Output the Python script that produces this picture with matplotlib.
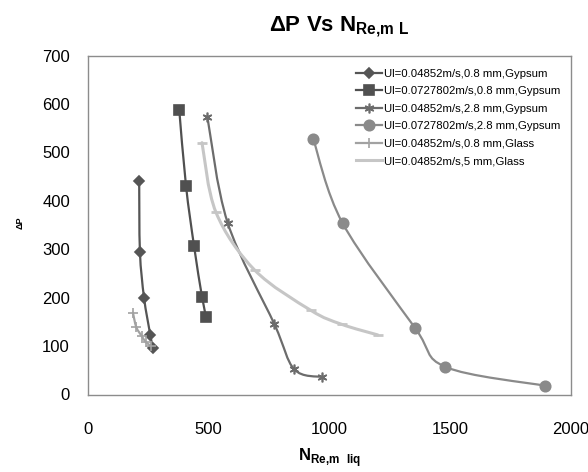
import numpy as np
import matplotlib
matplotlib.use('Agg')
import matplotlib.pyplot as plt
from matplotlib.path import Path
from matplotlib.patches import PathPatch
from matplotlib.lines import Line2D

plt.rcParams['font.family'] = 'Liberation Sans'
plt.rcParams['mathtext.fontset'] = 'custom'
plt.rcParams['mathtext.rm'] = 'Liberation Sans'
plt.rcParams['mathtext.bf'] = 'Liberation Sans:bold'

# ------- data -------
labels = ['Ul=0.04852m/s,0.8 mm,Gypsum',
          'Ul=0.0727802m/s,0.8 mm,Gypsum',
          'Ul=0.04852m/s,2.8 mm,Gypsum',
          'Ul=0.0727802m/s,2.8 mm,Gypsum',
          'Ul=0.04852m/s,0.8 mm,Glass',
          'Ul=0.04852m/s,5 mm,Glass']

nre_1 = [212, 215, 232, 258, 268]
dp_1 = [440, 295, 200, 123, 97]
nre_2 = [378, 406, 439, 472, 490]
dp_2 = [587, 430, 307, 202, 159]
nre_3 = [494, 578, 772, 854, 970]
dp_3 = [574, 355, 145, 52, 36]
nre_4 = [933, 1054, 1355, 1480, 1894]
dp_4 = [527, 354, 137, 57, 18]
nre_5 = [186, 200, 222, 240, 262]
dp_5 = [169, 139, 121, 108, 100]
nre_6 = [472, 530, 690, 922, 1050, 1200]
dp_6 = [520, 376, 257, 174, 145, 123]

xticks = [0, 500, 1000, 1500, 2000]
yticks = [0, 100, 200, 300, 400, 500, 600, 700]

# ------- styles -------
colors = ['#555555', '#505050', '#6c6c6c', '#8a8a8a', '#a2a2a2', '#c6c6c6']
markers = ['D', 's', (6, 2, 0), 'o', '+', '_']
msizes = [5.2, 7, 7, 7.5, 7, 7]
lwidths = [1.6, 1.6, 1.6, 1.6, 1.6, 2.2]
series = [(nre_1, dp_1), (nre_2, dp_2), (nre_3, dp_3),
          (nre_4, dp_4), (nre_5, dp_5), (nre_6, dp_6)]


def smooth_path(x, y):
    # Catmull-Rom through the points, drawn as cubic bezier segments
    p = np.column_stack([x, y]).astype(float)
    ext = np.vstack([p[0], p, p[-1]])
    verts = [p[0]]
    codes = [Path.MOVETO]
    for i in range(len(p) - 1):
        a, b, c, d = ext[i], ext[i + 1], ext[i + 2], ext[i + 3]
        verts += [b + (c - a) / 6.0, c - (d - b) / 6.0, c]
        codes += [Path.CURVE4] * 3
    return Path(verts, codes)


fig = plt.figure(figsize=(5.88, 4.72), dpi=100)
ax = fig.add_axes([88 / 588, 1 - 394.5 / 472, 483 / 588, 339 / 472])

handles = []
for (xs, ys), col, mk, ms, lw in zip(series, colors, markers, msizes, lwidths):
    ax.add_patch(PathPatch(smooth_path(xs, ys), fill=False, edgecolor=col,
                           lw=lw, capstyle='round', joinstyle='round'))
    mew = 2 if mk == '_' else 1.2
    ax.plot(xs, ys, ls='none', marker=mk, ms=ms, color=col, mec=col, mew=mew)
    handles.append(Line2D([], [], color=col, lw=lw, marker=mk if mk != '_' else None,
                          ms=ms, mec=col, mew=mew))

ax.set_xlim(0, 2000)
ax.set_ylim(0, 700)
ax.set_xticks(xticks)
ax.set_yticks(yticks)
ax.tick_params(length=0, labelsize=12)
ax.tick_params(axis='x', pad=20)
ax.tick_params(axis='y', pad=13)
for sp in ax.spines.values():
    sp.set_color('#8c8c8c')
    sp.set_linewidth(1)

ax.legend(handles, labels, loc='upper left', bbox_to_anchor=(0.545, 0.975),
          frameon=False, fontsize=8.2, handlelength=2.3, handletextpad=0.15,
          labelspacing=0.66, borderaxespad=0)

fig.text(339 / 588, 1 - 27 / 472, r'ΔP Vs N$_{\mathbf{Re{,}m\ L}}$',
         ha='center', va='center', fontsize=16, fontweight='bold')
fig.text(330 / 588, 1 - 458 / 472, r'N$_{\mathbf{Re{,}m\ \ liq}}$',
         ha='center', va='center', fontsize=12, fontweight='bold')
fig.text(20 / 588, 1 - 223 / 472, 'ΔP', rotation=90,
         ha='center', va='center', fontsize=6.5, fontweight='bold')

fig.savefig('out.png', dpi=100)
